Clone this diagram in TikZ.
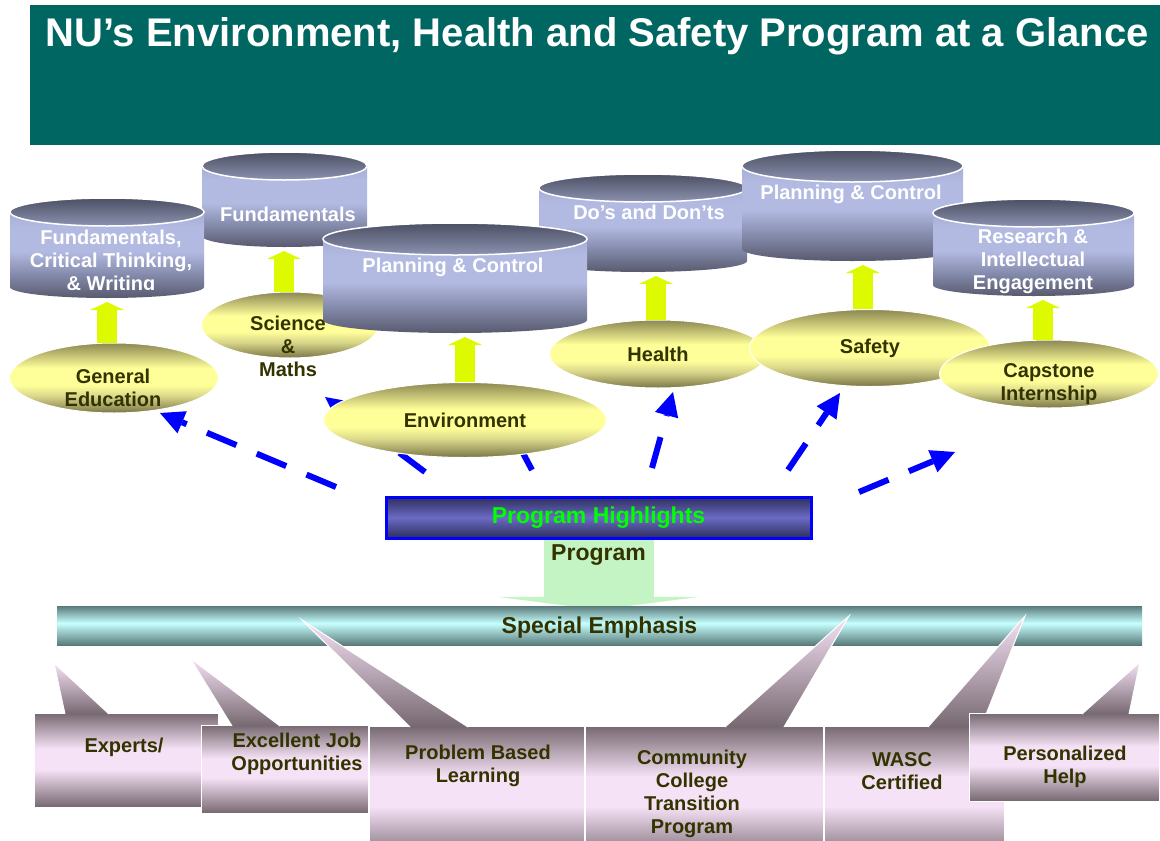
\documentclass[tikz,border=0pt]{standalone}
\usepackage{fontspec}
\setmainfont{Liberation Sans}
\usetikzlibrary{shapes,arrows.meta,positioning}
\definecolor{BannerColor}{RGB}{0,102,97}
\definecolor{InkColor}{RGB}{51,51,0}
\definecolor{LiftColor}{RGB}{221,250,0}
\definecolor{LinkColor}{RGB}{0,0,255}
\definecolor{FeedColor}{RGB}{196,244,196}
\definecolor{OvalDark}{RGB}{122,118,70}
\definecolor{OvalMid}{RGB}{216,214,138}
\definecolor{OvalLight}{RGB}{255,255,153}
\definecolor{OvalTop}{RGB}{140,136,82}
\definecolor{DrumDark}{RGB}{88,90,110}
\definecolor{DrumMid}{RGB}{130,136,168}
\definecolor{DrumLight}{RGB}{178,186,226}
\definecolor{DrumUpper}{RGB}{166,174,214}
\definecolor{LidTop}{RGB}{76,80,100}
\definecolor{LidRim}{RGB}{140,146,176}
\definecolor{CallDark}{RGB}{118,104,112}
\definecolor{CallLight}{RGB}{246,226,246}
\definecolor{BarDark}{RGB}{90,122,122}
\definecolor{BarLight}{RGB}{198,255,255}
\definecolor{HlDark}{RGB}{46,46,92}
\definecolor{HlLight}{RGB}{106,106,196}
\pgfdeclareverticalshading{ovalshade}{100bp}{color(0bp)=(OvalDark); color(25bp)=(OvalDark); color(37bp)=(OvalMid); color(45bp)=(OvalLight); color(57bp)=(OvalLight); color(75bp)=(OvalTop); color(100bp)=(OvalTop)}
\pgfdeclareverticalshading{drumshade}{100bp}{color(0bp)=(DrumDark); color(25bp)=(DrumDark); color(38bp)=(DrumMid); color(52bp)=(DrumLight); color(66bp)=(DrumLight); color(75bp)=(DrumUpper); color(100bp)=(DrumUpper)}
\pgfdeclareverticalshading{callshade}{100bp}{color(0bp)=(CallDark); color(25bp)=(CallDark); color(45bp)=(CallLight); color(56bp)=(CallLight); color(75bp)=(CallDark); color(100bp)=(CallDark)}
\pgfdeclareverticalshading{barshade}{100bp}{color(0bp)=(BarDark); color(25bp)=(BarDark); color(53bp)=(BarLight); color(75bp)=(BarDark); color(100bp)=(BarDark)}
\pgfdeclareverticalshading{hlshade}{100bp}{color(0bp)=(HlDark); color(25bp)=(HlDark); color(50bp)=(HlLight); color(75bp)=(HlDark); color(100bp)=(HlDark)}
\pgfdeclarelayer{back}
\pgfsetlayers{back,main}
\tikzset{
    banner/.style={rectangle, fill=BannerColor, inner sep=0pt, anchor=north west},
    headline/.style={text=white, font=\fontsize{40}{44}\selectfont\bfseries},
    drumbody/.style={shade, shading=drumshade},
    drumlid/.style={top color=LidTop, bottom color=LidRim, draw=white, line width=1.5pt},
    drumtext/.style={text=white, font=\fontsize{20}{23}\selectfont\bfseries, align=center},
    oval/.style={ellipse, shade, shading=ovalshade, draw=white, line width=1pt, inner sep=0pt, text=InkColor, font=\fontsize{20}{23}\selectfont\bfseries, align=center},
    ovaltext/.style={text=InkColor, font=\fontsize{20}{23}\selectfont\bfseries, align=center},
    lift/.style={LiftColor, line width=20pt, -{Triangle[length=8pt, width=34pt, line width=0pt]}},
    link/.style={LinkColor, line width=6pt, dash pattern=on 32pt off 22pt, -{Triangle[length=24pt, width=24pt, line width=0pt]}},
    highlight/.style={rectangle, shade, shading=hlshade, draw=LinkColor, line width=3pt, text=green, font=\fontsize{23}{26}\selectfont\bfseries},
    emphasis/.style={rectangle, shade, shading=barshade, text=InkColor, font=\fontsize{23}{26}\selectfont\bfseries, text depth=0pt},
    feed/.style={FeedColor, line width=110pt, -{Triangle[length=13pt, width=202pt, line width=0pt]}},
    callbox/.style={rectangle, shade, shading=callshade, draw=white, line width=1pt, outer sep=0pt, inner sep=0pt, anchor=north west},
    pointer/.style={top color=CallLight, bottom color=CallDark, draw=white, line width=1pt},
    calltext/.style={text=InkColor, font=\fontsize{20}{23}\selectfont\bfseries, align=center}
}
% drum: name, centre x, half width, top, bottom, lid radius, base radius
\newcommand\drum[7]{%
    \path[drumbody] (#2-#3,#4+#6) -- (#2-#3,#5-#7) arc[start angle=180, end angle=360, x radius=#3pt, y radius=#7pt] -- (#2+#3,#4+#6) -- cycle;
    \path[drumlid] (#2,#4+#6) ellipse[x radius=#3pt, y radius=#6pt];
    \coordinate (#1) at (#2,#5+4);
}
\begin{document}
\begin{tikzpicture}[x=1pt, y=-1pt]
\useasboundingbox (0,0) rectangle (1160,841);
\clip (0,0) rectangle (1160,841);
\begin{pgfonlayer}{back}
\fill[white] (0,0) rectangle (1160,841);
\end{pgfonlayer}

% Title
\node[banner, minimum width=1130pt, minimum height=140pt] (banner) at (30,5) {};
\node[headline, anchor=base west] (title) at (42,46) {NU’s Environment, Health and Safety Program at a Glance};

% Drums
\drum{dosdrum}{643}{104}{174}{272}{14}{11}
\node[drumtext] (dosT) at (649,212) {Do’s and Don’ts};
\drum{pcrdrum}{852.5}{110.5}{150}{261}{16}{12}
\node[drumtext] (pcrT) at (851,194) {Planning \& Control};
\drum{resdrum}{1033.5}{100.5}{199}{296}{14}{11}
\node[drumtext] (resT) at (1033,261) {Research \&\\Intellectual\\Engagement};
\drum{funddrum}{284.5}{82.5}{152}{247}{14}{11}
\node[drumtext] (fundT) at (288,214) {Fundamentals};
\drum{gedrum}{107}{97}{198}{298}{14}{11}
\begin{scope}
\clip (0,0) rectangle (1160,289);
\node[drumtext] (geT) at (111,262) {Fundamentals,\\Critical Thinking,\\\& Writing};
\end{scope}
\node[oval, minimum width=177pt, minimum height=66pt] (science) at (290,325) {};
\drum{pcmdrum}{455}{132}{223}{333}{16}{13}
\node[drumtext] (pcmT) at (453,267) {Planning \& Control};

% Dashed links
\coordinate (tailge) at (336,487);
\coordinate (headge) at (160,413);
\coordinate (tailsc) at (425,472);
\coordinate (headsc) at (325,397);
\coordinate (tailpc) at (532,470);
\coordinate (headpc) at (508,425);
\coordinate (tailhe) at (652,468);
\coordinate (headhe) at (673,392);
\coordinate (tailsa) at (788,470);
\coordinate (headsa) at (840,393);
\coordinate (tailca) at (859,492);
\coordinate (headca) at (955,452);
\draw[link] (tailge) -- (headge);
\draw[link] (tailsc) -- (headsc);
\draw[link] (tailpc) -- (headpc);
\draw[link] (tailhe) -- (headhe);
\draw[link] (tailsa) -- (headsa);
\draw[link] (tailca) -- (headca);

% Ovals
\node[oval, minimum width=209pt, minimum height=70pt] (gened) at (114,378) {};
\node[oval, minimum width=283pt, minimum height=75pt] (environment) at (465,420) {Environment};
\node[oval, minimum width=217pt, minimum height=68pt] (health) at (658,354) {Health};
\node[oval, minimum width=241pt, minimum height=77pt] (safety) at (870,348) {Safety};
\node[oval, minimum width=219pt, minimum height=68pt] (capstone) at (1049,374) {};
\node[ovaltext] (genedT) at (113,388) {General\\Education};
\node[ovaltext] (scienceT) at (288,346) {Science\\\&\\Maths};
\node[ovaltext] (capstoneT) at (1049,384) {Capstone\\Internship};

% Lifts
\draw[lift] ([xshift=-7pt]gened.north) -- ([xshift=-7pt]gened.north |- gedrum);
\draw[lift] ([xshift=-6pt]science.north) -- ([xshift=-6pt]science.north |- funddrum);
\draw[lift] (environment.north) -- (environment.north |- pcmdrum);
\draw[lift] ([xshift=-2pt]health.north) -- ([xshift=-2pt]health.north |- dosdrum);
\draw[lift] ([xshift=-7pt]safety.north) -- ([xshift=-7pt]safety.north |- pcrdrum);
\draw[lift] ([xshift=-6pt]capstone.north) -- ([xshift=-6pt]capstone.north |- resdrum);

% Highlights and emphasis
\node[highlight, minimum width=425pt, minimum height=41pt] (highlights) at (598.5,517.5) {Program Highlights};
\node[emphasis, minimum width=1085pt, minimum height=39pt] (emphasis) at (599.5,625.5) {Special Emphasis};
\begin{pgfonlayer}{back}
\draw[feed, shorten >=-4pt] (highlights.south) -- (highlights.south |- emphasis.north)
    node[pos=0.24, calltext, font=\fontsize{23}{26}\selectfont\bfseries] (programT) {Program};
\end{pgfonlayer}

% Callouts
\node[callbox, minimum width=184pt, minimum height=94pt] (experts) at (34,713) {};
\coordinate (expertstip) at (54,663);
\path[pointer] ([xshift=31pt,yshift=-1pt]experts.north west) -- (expertstip) -- ([xshift=75pt,yshift=-1pt]experts.north west);
\node[calltext] (expertsT) at (124,747) {Experts/};

\node[callbox, minimum width=167pt, minimum height=88pt] (jobs) at (201,725) {};
\coordinate (jobstip) at (190,658);
\path[pointer] ([xshift=31pt,yshift=-1pt]jobs.north west) -- (jobstip) -- ([xshift=79pt,yshift=-1pt]jobs.north west);
\node[calltext] (jobsT) at (297,754) {Excellent Job\\Opportunities};

\node[callbox, minimum width=215pt, minimum height=134pt] (problem) at (369,726) {};
\coordinate (problemtip) at (302,620);
\path[pointer] ([xshift=41pt,yshift=-1pt]problem.north west) -- (problemtip) -- ([xshift=99pt,yshift=-1pt]problem.north west);
\node[calltext] (problemT) at (478,765.5) {Problem Based\\Learning};

\node[callbox, minimum width=238pt, minimum height=134pt] (community) at (585,726) {};
\coordinate (communitytip) at (849,616);
\path[pointer] ([xshift=140pt,yshift=-1pt]community.north west) -- (communitytip) -- ([xshift=199pt,yshift=-1pt]community.north west);
\node[calltext] (communityT) at (692,793.5) {Community\\College\\Transition\\Program};

\node[callbox, minimum width=180pt, minimum height=134pt] (wasc) at (824,726) {};
\coordinate (wasctip) at (1025,616);
\path[pointer] ([xshift=104pt,yshift=-1pt]wasc.north west) -- (wasctip) -- ([xshift=157pt,yshift=-1pt]wasc.north west);
\node[calltext] (wascT) at (902,771) {WASC\\Certified};

\node[callbox, minimum width=190pt, minimum height=88pt] (personal) at (969,713) {};
\coordinate (personaltip) at (1140,662);
\path[pointer] ([xshift=113pt,yshift=-1pt]personal.north west) -- (personaltip) -- ([xshift=160pt,yshift=-1pt]personal.north west);
\node[calltext] (personalT) at (1065,766.5) {Personalized\\Help};

\end{tikzpicture}
\end{document}
